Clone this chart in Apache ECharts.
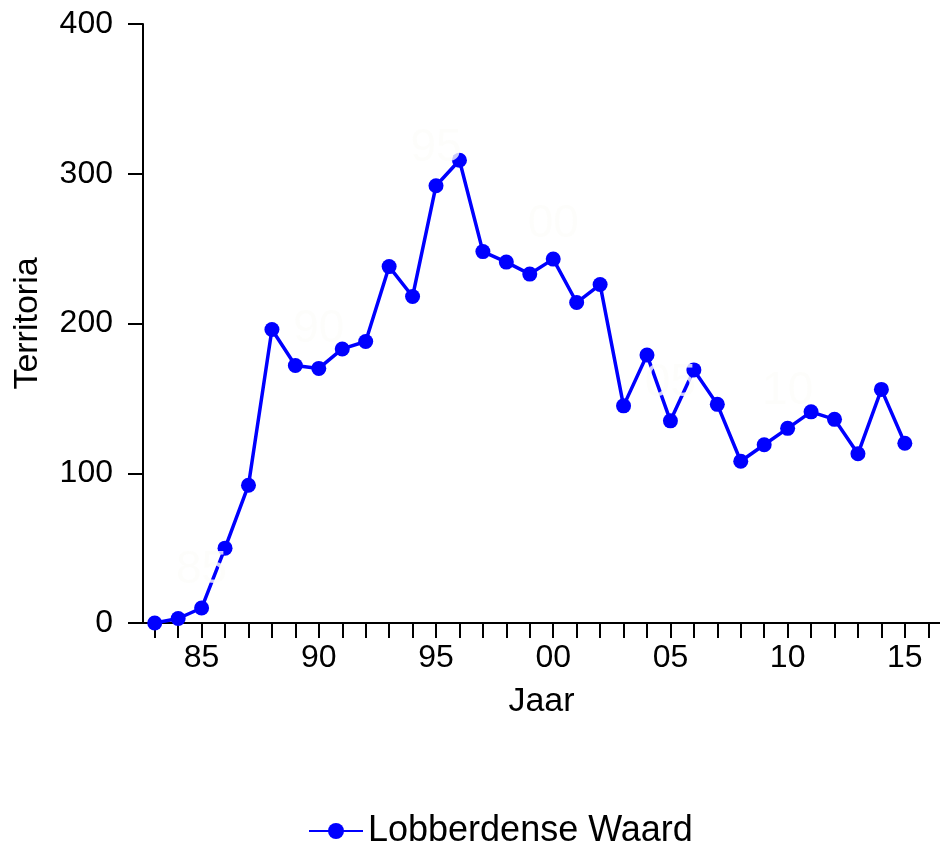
<!DOCTYPE html>
<html>
<head>
<meta charset="utf-8">
<script src="https://cdn.jsdelivr.net/npm/echarts@6/dist/echarts.min.js"></script>
<style>
  html, body { margin: 0; padding: 0; background: #fff; }
  #chart { width: 940px; height: 849px; }
</style>
</head>
<body>
<div id="chart"></div>
<script>
// jaren 1983 t/m 2016 (2016 zonder waarde, alleen as)
var years = [];
for (var y = 1983; y <= 2016; y++) years.push(String(y));

var territoria = [0, 3, 10, 50, 92, 196, 172, 170, 183, 188, 238, 218, 292, 309,
  248, 241, 233, 243, 214, 226, 145, 179, 135, 169, 146, 108, 119, 130, 141, 136,
  113, 156, 120];

// lichte jaartallen in het plotvlak
var markYears = ['1985', '1990', '1995', '2000', '2005', '2010'];
var markLevels = [35, 196, 317, 266, 160, 155];
var markTexts = ['85', '90', '95', '00', '05', '10'];

var yTicks = [0, 100, 200, 300, 400];

var fontFam = '"Liberation Sans", Arial, sans-serif';

var markData = markYears.map(function (yr, i) {
  return { name: markTexts[i], value: [yr, markLevels[i]] };
});

var myChart = echarts.init(document.getElementById('chart'));
var option = {
  animation: false,
  backgroundColor: '#ffffff',
  textStyle: { fontFamily: fontFam },
  grid: { left: 143, top: 24, right: 0, bottom: 226, containLabel: false },
  legend: {
    data: ['Lobberdense Waard'],
    left: 303,
    top: 808,
    itemWidth: 54,
    itemHeight: 20,
    itemGap: 10,
    textStyle: { fontSize: 36, color: '#000', fontFamily: fontFam }
  },
  xAxis: {
    type: 'category',
    data: years,
    boundaryGap: true,
    name: 'Jaar',
    nameLocation: 'middle',
    nameGap: 62,
    nameTextStyle: { fontSize: 34, color: '#000' },
    axisLine: { lineStyle: { color: '#000', width: 2 } },
    axisTick: {
      show: true,
      alignWithLabel: true,
      interval: 0,
      length: 15,
      lineStyle: { color: '#000', width: 2 }
    },
    axisLabel: {
      interval: function (idx, val) { return Number(val) % 5 === 0; },
      formatter: function (val) { return val.slice(2); },
      fontSize: 32,
      color: '#000',
      margin: 19
    },
    splitLine: { show: false }
  },
  yAxis: {
    type: 'value',
    min: yTicks[0],
    max: yTicks[yTicks.length - 1],
    interval: 100,
    name: 'Territoria',
    nameLocation: 'middle',
    nameGap: 98,
    nameTextStyle: { fontSize: 34, color: '#000' },
    axisLine: { show: true, lineStyle: { color: '#000', width: 2 } },
    axisTick: { show: true, length: 15, lineStyle: { color: '#000', width: 2 } },
    axisLabel: { fontSize: 32, color: '#000', margin: 30 },
    splitLine: { show: false }
  },
  series: [
    {
      name: 'Lobberdense Waard',
      type: 'line',
      data: territoria,
      symbol: 'circle',
      symbolSize: 15,
      z: 2,
      lineStyle: { color: '#0000ff', width: 3.5 },
      itemStyle: { color: '#0000ff' }
    },
    {
      name: 'jaartallen',
      type: 'scatter',
      data: markData,
      symbolSize: 1,
      silent: true,
      z: 5,
      itemStyle: { color: 'rgba(255,255,255,0)' },
      label: {
        show: true,
        position: 'inside',
        formatter: function (p) { return p.name; },
        fontSize: 46,
        color: '#fdfcfa',
        fontFamily: fontFam
      }
    }
  ]
};
myChart.setOption(option);
</script>
</body>
</html>
